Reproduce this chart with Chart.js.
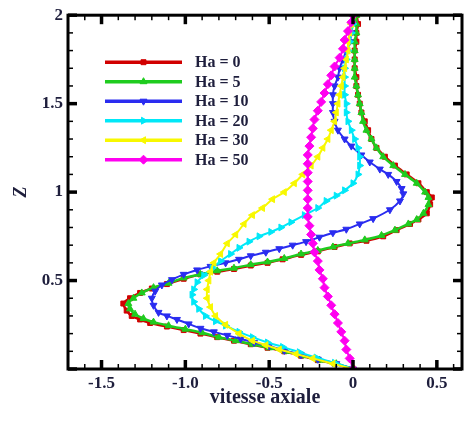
<!DOCTYPE html>
<html>
<head>
<meta charset="utf-8">
<script src="https://cdn.jsdelivr.net/npm/chart.js@4/dist/chart.umd.min.js"></script>
<style>
  body { margin: 0; background: #fff; }
  #wrap { width: 471px; height: 421px; }
</style>
</head>
<body>
<div id="wrap"><canvas id="myChart" width="471" height="421"></canvas></div>
<script>
// axial velocity profiles, [vitesse, Z]
const ha0 = [[0.02,2.0],[0.03,1.95],[0.02,1.9],[0.02,1.85],[0.01,1.8],[0.01,1.75],[0.01,1.7],[0.02,1.65],[0.02,1.6],[0.03,1.55],[0.04,1.5],[0.05,1.45],[0.07,1.4],[0.09,1.35],[0.11,1.3],[0.14,1.25],[0.19,1.2],[0.25,1.15],[0.32,1.1],[0.39,1.05],[0.44,1.0],[0.47,0.97],[0.46,0.93],[0.44,0.88],[0.39,0.845],[0.34,0.82],[0.26,0.785],[0.18,0.75],[0.08,0.725],[-0.02,0.71],[-0.11,0.69],[-0.21,0.665],[-0.31,0.645],[-0.42,0.62],[-0.51,0.6],[-0.61,0.585],[-0.71,0.565],[-0.81,0.55],[-0.91,0.535],[-1.01,0.51],[-1.11,0.48],[-1.2,0.455],[-1.27,0.43],[-1.33,0.4],[-1.37,0.37],[-1.35,0.33],[-1.32,0.3],[-1.27,0.28],[-1.21,0.26],[-1.11,0.24],[-1.01,0.22],[-0.91,0.2],[-0.81,0.18],[-0.71,0.16],[-0.61,0.14],[-0.51,0.12],[-0.41,0.1],[-0.31,0.075],[-0.21,0.05],[-0.11,0.03],[0,0]];
const ha5 = [[0.02,2.0],[0.02,1.95],[0.02,1.9],[0.01,1.85],[0.01,1.8],[0.01,1.75],[0.01,1.7],[0.01,1.65],[0.02,1.6],[0.03,1.55],[0.04,1.5],[0.05,1.45],[0.06,1.4],[0.08,1.35],[0.11,1.3],[0.14,1.25],[0.18,1.2],[0.24,1.15],[0.31,1.1],[0.38,1.05],[0.43,1.0],[0.45,0.97],[0.45,0.93],[0.42,0.88],[0.38,0.845],[0.33,0.82],[0.25,0.785],[0.17,0.755],[0.07,0.73],[-0.03,0.71],[-0.12,0.69],[-0.21,0.67],[-0.31,0.65],[-0.41,0.625],[-0.51,0.605],[-0.61,0.59],[-0.71,0.57],[-0.81,0.555],[-0.91,0.535],[-1.01,0.515],[-1.1,0.485],[-1.19,0.46],[-1.26,0.43],[-1.31,0.4],[-1.34,0.37],[-1.33,0.34],[-1.3,0.31],[-1.25,0.285],[-1.19,0.265],[-1.1,0.245],[-1.0,0.225],[-0.9,0.205],[-0.8,0.18],[-0.7,0.16],[-0.6,0.14],[-0.5,0.12],[-0.4,0.1],[-0.3,0.075],[-0.2,0.05],[-0.1,0.03],[0,0]];
const ha10 = [[0.0,2.0],[-0.01,1.95],[-0.01,1.9],[-0.02,1.85],[-0.04,1.8],[-0.06,1.75],[-0.08,1.7],[-0.09,1.65],[-0.11,1.6],[-0.12,1.55],[-0.12,1.5],[-0.12,1.45],[-0.11,1.4],[-0.09,1.35],[-0.05,1.3],[-0.01,1.26],[0.05,1.21],[0.1,1.17],[0.16,1.13],[0.21,1.1],[0.26,1.06],[0.29,1.02],[0.3,0.99],[0.28,0.95],[0.22,0.9],[0.12,0.85],[0.04,0.82],[-0.04,0.79],[-0.12,0.77],[-0.2,0.745],[-0.28,0.72],[-0.36,0.7],[-0.44,0.68],[-0.52,0.66],[-0.61,0.64],[-0.68,0.62],[-0.76,0.6],[-0.85,0.58],[-0.93,0.56],[-1.01,0.535],[-1.08,0.505],[-1.14,0.475],[-1.18,0.44],[-1.2,0.4],[-1.19,0.36],[-1.16,0.32],[-1.11,0.3],[-1.05,0.28],[-0.98,0.255],[-0.91,0.23],[-0.83,0.21],[-0.75,0.19],[-0.67,0.17],[-0.59,0.15],[-0.5,0.13],[-0.41,0.105],[-0.31,0.08],[-0.21,0.055],[-0.1,0.03],[0,0]];
const ha20 = [[0.0,2.0],[0.0,1.95],[-0.01,1.9],[-0.02,1.85],[-0.03,1.8],[-0.04,1.75],[-0.05,1.7],[-0.05,1.65],[-0.05,1.6],[-0.05,1.55],[-0.04,1.5],[-0.04,1.45],[-0.03,1.4],[-0.01,1.35],[0.01,1.3],[0.03,1.25],[0.04,1.2],[0.04,1.15],[0.03,1.1],[0.0,1.05],[-0.05,1.01],[-0.1,0.98],[-0.16,0.95],[-0.21,0.91],[-0.29,0.87],[-0.37,0.83],[-0.43,0.8],[-0.49,0.775],[-0.56,0.75],[-0.62,0.72],[-0.68,0.685],[-0.73,0.65],[-0.79,0.61],[-0.84,0.57],[-0.89,0.53],[-0.93,0.49],[-0.95,0.45],[-0.96,0.42],[-0.95,0.38],[-0.92,0.34],[-0.88,0.3],[-0.82,0.27],[-0.76,0.245],[-0.68,0.21],[-0.6,0.18],[-0.51,0.15],[-0.42,0.125],[-0.32,0.095],[-0.22,0.065],[-0.11,0.035],[0,0]];
const ha30 = [[0.0,2.0],[-0.01,1.95],[-0.02,1.9],[-0.03,1.85],[-0.03,1.8],[-0.04,1.75],[-0.05,1.7],[-0.06,1.65],[-0.07,1.6],[-0.08,1.55],[-0.09,1.5],[-0.1,1.45],[-0.11,1.4],[-0.13,1.35],[-0.15,1.3],[-0.18,1.25],[-0.21,1.2],[-0.25,1.15],[-0.3,1.1],[-0.35,1.05],[-0.41,1.0],[-0.48,0.96],[-0.54,0.91],[-0.6,0.87],[-0.65,0.82],[-0.7,0.76],[-0.75,0.71],[-0.79,0.65],[-0.83,0.6],[-0.85,0.55],[-0.86,0.5],[-0.87,0.45],[-0.87,0.4],[-0.85,0.35],[-0.82,0.3],[-0.76,0.25],[-0.68,0.2],[-0.6,0.16],[-0.52,0.135],[-0.44,0.11],[-0.34,0.085],[-0.24,0.06],[-0.12,0.03],[0,0]];
const ha50 = [[0.0,2.0],[-0.01,1.96],[-0.03,1.91],[-0.05,1.86],[-0.06,1.81],[-0.08,1.76],[-0.11,1.71],[-0.13,1.66],[-0.15,1.61],[-0.17,1.56],[-0.19,1.51],[-0.21,1.46],[-0.23,1.41],[-0.24,1.36],[-0.25,1.31],[-0.26,1.26],[-0.27,1.21],[-0.27,1.16],[-0.27,1.11],[-0.27,1.06],[-0.27,1.01],[-0.27,0.96],[-0.27,0.91],[-0.27,0.86],[-0.26,0.81],[-0.25,0.76],[-0.24,0.71],[-0.23,0.66],[-0.21,0.61],[-0.2,0.56],[-0.18,0.51],[-0.17,0.46],[-0.15,0.41],[-0.13,0.36],[-0.11,0.31],[-0.09,0.26],[-0.07,0.21],[-0.05,0.16],[-0.04,0.11],[-0.02,0.06],[0,0]];

const seriesLabels = ['Ha = 0', 'Ha = 5', 'Ha = 10', 'Ha = 20', 'Ha = 30', 'Ha = 50'];
const xTicks = [-1.5, -1, -0.5, 0, 0.5];
const yTicks = [0, 0.5, 1, 1.5, 2];

const styles = [
  { color: '#d10000', pointStyle: 'rect', rotation: 0, radius: 3.5, width: 2.5 },
  { color: '#1fcc1f', pointStyle: 'triangle', rotation: 0, radius: 4, width: 2.5 },
  { color: '#2a2cf0', pointStyle: 'triangle', rotation: 180, radius: 4, width: 2 },
  { color: '#00e8f8', pointStyle: 'triangle', rotation: 90, radius: 4, width: 2 },
  { color: '#f8f800', pointStyle: 'triangle', rotation: -90, radius: 4, width: 2 },
  { color: '#ff00f0', pointStyle: 'rectRot', rotation: 0, radius: 4.5, width: 2 }
];
const allSeries = [ha0, ha5, ha10, ha20, ha30, ha50];

const textColor = '#1e1e3c';
const serif = "'Liberation Serif', 'DejaVu Serif', serif";

const datasets = allSeries.map((s, i) => ({
  label: seriesLabels[i],
  data: s.map(p => ({ x: p[0], y: p[1] })),
  showLine: true,
  tension: 0.3,
  borderColor: styles[i].color,
  backgroundColor: styles[i].color,
  borderWidth: styles[i].width,
  pointStyle: styles[i].pointStyle,
  rotation: styles[i].rotation,
  pointRadius: styles[i].radius,
  pointBorderWidth: 1,
  order: allSeries.length - 1 - i
}));

// frame + inward ticks on all four sides
const frameTicks = {
  id: 'frameTicks',
  afterDatasetsDraw(chart) {
    const { ctx, chartArea: a, scales } = chart;
    const xs = scales.x, ys = scales.y;
    ctx.save();
    ctx.strokeStyle = '#000';
    ctx.lineCap = 'butt';
    const tick = (x1, y1, x2, y2, w) => {
      ctx.lineWidth = w;
      ctx.beginPath(); ctx.moveTo(x1, y1); ctx.lineTo(x2, y2); ctx.stroke();
    };
    for (let k = -17; k <= 6; k++) {
      const v = k / 10;
      const major = k % 5 === 0;
      const len = major ? 9 : 5, w = major ? 3.5 : 1.5;
      const px = xs.getPixelForValue(v);
      tick(px, a.bottom, px, a.bottom - len, w);
      tick(px, a.top, px, a.top + len, w);
    }
    for (let k = 0; k <= 20; k++) {
      const v = k / 10;
      const major = k % 5 === 0;
      const len = major ? 9 : 5, w = major ? 3.5 : 1.5;
      const py = ys.getPixelForValue(v);
      tick(a.left, py, a.left + len, py, w);
      tick(a.right, py, a.right - len, py, w);
    }
    ctx.lineWidth = 3;
    ctx.strokeRect(a.left, a.top, a.right - a.left, a.bottom - a.top);
    ctx.restore();
  }
};

// legend with line segment and marker, placed inside the plot
const lineLegend = {
  id: 'lineLegend',
  afterDraw(chart) {
    const { ctx, chartArea: a } = chart;
    ctx.save();
    chart.data.datasets.forEach((ds, i) => {
      const y = a.top + 47 + i * 19.5;
      const x1 = a.left + 37, x2 = a.left + 114;
      ctx.strokeStyle = ds.borderColor;
      ctx.lineWidth = 3.5;
      ctx.beginPath(); ctx.moveTo(x1, y); ctx.lineTo(x2, y); ctx.stroke();
      ctx.fillStyle = ds.borderColor;
      ctx.lineWidth = 1;
      Chart.helpers.drawPoint(ctx, {
        pointStyle: ds.pointStyle, rotation: ds.rotation,
        radius: ds.pointRadius, borderWidth: 1
      }, (x1 + x2) / 2, y);
      ctx.fillStyle = textColor;
      ctx.font = 'bold 16px ' + serif;
      ctx.textBaseline = 'middle';
      ctx.textAlign = 'left';
      ctx.fillText(ds.label, a.left + 127, y + 1);
    });
    ctx.restore();
  }
};

const ctx = document.getElementById('myChart');
const chart = new Chart(ctx, {
  type: 'scatter',
  data: { datasets },
  options: {
    responsive: false,
    animation: false,
    layout: { padding: { top: 13, right: 9, left: 0, bottom: 0 } },
    plugins: { legend: { display: false }, tooltip: { enabled: false } },
    scales: {
      x: {
        min: -1.7, max: 0.65,
        afterBuildTicks: s => { s.ticks = xTicks.map(v => ({ value: v })); },
        afterFit: s => { s.height = 52; },
        grid: { display: false, drawTicks: false },
        border: { display: false },
        ticks: { color: textColor, padding: 4, font: { family: serif, size: 17, weight: 'bold' } },
        title: { display: true, text: 'vitesse axiale', color: textColor, padding: { top: 0, bottom: 11 },
                 font: { family: serif, size: 20, weight: 'bold' } }
      },
      y: {
        min: 0, max: 2,
        afterBuildTicks: s => { s.ticks = yTicks.map(v => ({ value: v })); },
        afterFit: s => { s.width = 68; },
        grid: { display: false, drawTicks: false },
        border: { display: false },
        ticks: { color: textColor, padding: 5, font: { family: serif, size: 17, weight: 'bold' },
                 callback: v => (v === 0 ? '' : String(v)) },
        title: { display: true, text: 'Z', color: textColor, padding: { top: 11, bottom: 0 },
                 font: { family: serif, size: 18, weight: 'bold', style: 'italic' } }
      }
    }
  },
  plugins: [frameTicks, lineLegend]
});
</script>
</body>
</html>
